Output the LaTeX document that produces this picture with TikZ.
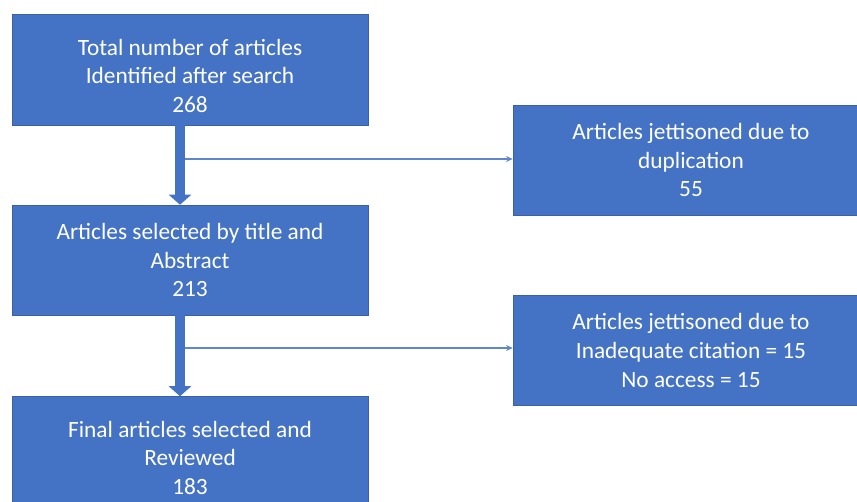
\documentclass[tikz,border=0pt]{standalone}
\usepackage{fontspec}
\setmainfont{Carlito}
\usetikzlibrary{arrows.meta,positioning}
\definecolor{officeblue}{HTML}{4472C4}
\newcommand{\topgap}{\rule{0pt}{21.5pt}}

\begin{document}
\begin{tikzpicture}[x=0.75pt,y=-0.75pt,
  box/.style={fill=officeblue, draw=officeblue!85!black, line width=0.4pt, text=white, minimum width=267pt, minimum height=82.5pt, align=center, inner sep=0pt, font=\fontsize{17.5}{21.4}\selectfont},
  flow/.style={officeblue, line width=7.5pt, -{Triangle[width=16.5pt,length=7.5pt]}},
  side/.style={officeblue!85, line width=0.9pt, -{Stealth[length=5pt,width=4.5pt]}}]
\useasboundingbox (0,0) rectangle (857,502);
\clip (0,0) rectangle (857,502);
% left column
\node[box, minimum height=83.25pt] (total) at (190,69.5) {\topgap Total number of articles\\Identified after search\\268};
\node[box] (title) at (190,260) {Articles selected by title and\\Abstract\\213};
\node[box] (final) at (190,451.5) {\topgap Final articles selected and\\Reviewed\\183};
% right column
\node[box] (dup) at (691,160) {Articles jettisoned due to\\duplication\\55};
\node[box] (cite) at (691,350.5) {Articles jettisoned due to\\Inadequate citation = 15\\No access = 15};
% arrows
\coordinate (s1) at (180,159);
\coordinate (s2) at (180,348);
\draw[flow] (total.south -| s1) -- (title.north -| s1);
\draw[flow] (title.south -| s1) -- (final.north -| s1);
\draw[side] ([xshift=3.75pt]s1) -- (dup.west |- s1);
\draw[side] ([xshift=3.75pt]s2) -- (cite.west |- s2);
\end{tikzpicture}
\end{document}
